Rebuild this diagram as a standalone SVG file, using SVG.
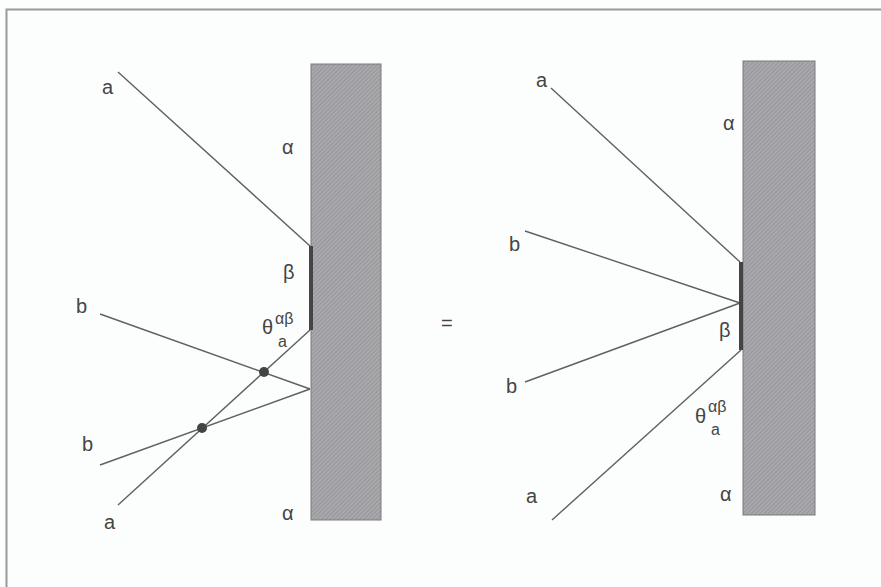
<svg xmlns="http://www.w3.org/2000/svg" width="881" height="587" viewBox="0 0 881 587">
<style>
text{font-family:"Liberation Sans",Arial,sans-serif;font-size:20px;fill:#454545}
.sup{font-size:16px}
.ln{stroke:#606060;stroke-width:1.4;fill:none}
.wall{fill:url(#hatch);stroke:#7a7a7a;stroke-width:1}
.bar{stroke:#444;stroke-width:4}
.dot{fill:#444}
</style>
<defs>
<pattern id="hatch" width="3" height="3" patternUnits="userSpaceOnUse" patternTransform="rotate(45)">
<rect width="3" height="3" fill="#a9a9ad"/>
<line x1="0" y1="0" x2="0" y2="3" stroke="#8a8a8e" stroke-width="1.2"/>
</pattern>
</defs>
<rect width="881" height="587" fill="#fcfdfd"/>
<path d="M881 9.5H6.5V587" fill="none" stroke="#9a9a9a" stroke-width="2"/>
<g id="left-wall"><rect class="wall" x="311" y="64" width="70" height="456"/></g>
<g id="right-wall"><rect class="wall" x="743" y="61" width="72" height="454"/></g>
<g id="connectors">
<line class="ln" x1="118" y1="72" x2="310" y2="246"/>
<line class="ln" x1="100" y1="314" x2="310" y2="389"/>
<line class="ln" x1="100" y1="465" x2="310" y2="389"/>
<line class="ln" x1="118" y1="505" x2="310" y2="330"/>
<line class="bar" x1="311" y1="246" x2="311" y2="330"/>
<line class="ln" x1="551" y1="88" x2="740" y2="262"/>
<line class="ln" x1="525" y1="231" x2="740" y2="303"/>
<line class="ln" x1="525" y1="382" x2="740" y2="303"/>
<line class="ln" x1="552" y1="520" x2="741" y2="350"/>
<line class="bar" x1="741" y1="262" x2="741" y2="350"/>
</g>
<g id="dots">
<circle class="dot" cx="264" cy="372" r="5"/>
<circle class="dot" cx="202" cy="428" r="5"/>
</g>
<g id="left-labels">
<text x="102" y="94">a</text>
<text x="282" y="154">α</text>
<text x="283" y="279">β</text>
<text x="76" y="313">b</text>
<text x="82" y="451">b</text>
<text x="104" y="529">a</text>
<text x="282" y="520">α</text>
<text x="262" y="334">θ</text>
<text class="sup" x="275" y="324">αβ</text>
<text class="sup" x="278" y="347">a</text>
</g>
<text x="441" y="330">=</text>
<g id="right-labels">
<text x="536" y="87">a</text>
<text x="723" y="130">α</text>
<text x="509" y="251">b</text>
<text x="719" y="337">β</text>
<text x="506" y="393">b</text>
<text x="526" y="503">a</text>
<text x="720" y="501">α</text>
<text x="695" y="423">θ</text>
<text class="sup" x="708" y="412">αβ</text>
<text class="sup" x="711" y="435">a</text>
</g>
</svg>
